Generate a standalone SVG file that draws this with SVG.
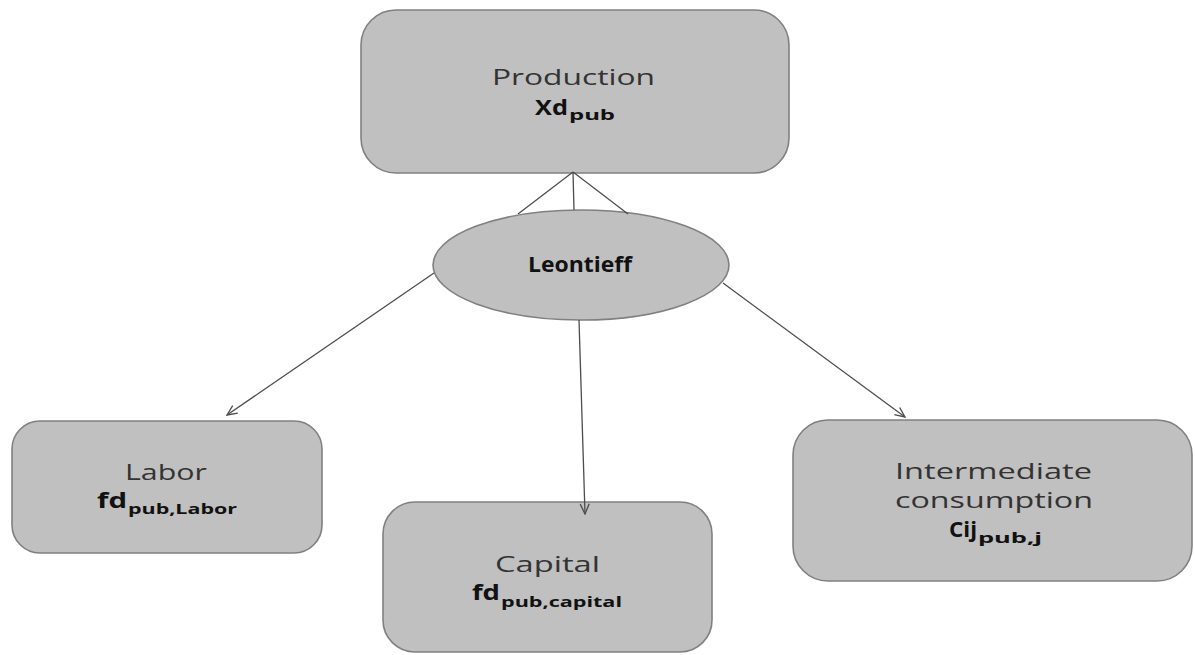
<svg xmlns="http://www.w3.org/2000/svg" width="1195" height="655" viewBox="0 0 1195 655">
  <defs>
    <style>
      .box { fill: #c0c0c0; stroke: #808080; stroke-width: 1.6; }
      .link { fill: none; stroke: #4d4d4d; stroke-width: 1.3; }
      .lbl { font-family: "Open Sans", "Liberation Sans", sans-serif; font-size: 22px; fill: #333333; }
      .var { font-family: "Open Sans", "Liberation Sans", sans-serif; font-size: 22px; font-weight: bold; fill: #111111; }
      .sub { font-family: "Open Sans", "Liberation Sans", sans-serif; font-size: 14px; font-weight: bold; fill: #111111; }
    </style>
    <marker id="arrow" viewBox="0 0 12 12" refX="11" refY="6" markerWidth="12" markerHeight="12" markerUnits="userSpaceOnUse" orient="auto">
      <path d="M1,1.5 L11,6 L1,10.5" fill="none" stroke="#4d4d4d" stroke-width="1.3"/>
    </marker>
  </defs>

  <rect width="1195" height="655" fill="#ffffff"/>

  <!-- production node -->
  <g id="production">
    <rect class="box" x="361" y="10" width="428" height="163" rx="35" ry="35"/>
    <text class="lbl" x="492" y="85" font-size="24" textLength="163" lengthAdjust="spacingAndGlyphs">Production</text>
    <text class="var" x="535" y="115" textLength="33" lengthAdjust="spacingAndGlyphs">Xd</text>
    <text class="sub" x="569" y="120" textLength="46" lengthAdjust="spacingAndGlyphs">pub</text>
  </g>

  <!-- Leontieff aggregation -->
  <g id="leontieff">
    <ellipse class="box" cx="581" cy="265" rx="148" ry="55"/>
    <text class="var" x="528" y="272" font-size="17" textLength="104" lengthAdjust="spacingAndGlyphs">Leontieff</text>
  </g>

  <!-- labor node -->
  <g id="labor">
    <rect class="box" x="12" y="421" width="310" height="132" rx="28" ry="28"/>
    <text class="lbl" x="125" y="480" textLength="82" lengthAdjust="spacingAndGlyphs">Labor</text>
    <text class="var" x="97" y="508" textLength="30" lengthAdjust="spacingAndGlyphs">fd</text>
    <text class="sub" x="128" y="514" textLength="109" lengthAdjust="spacingAndGlyphs">pub,Labor</text>
  </g>

  <!-- capital node -->
  <g id="capital">
    <rect class="box" x="383" y="502" width="329" height="150" rx="32" ry="32"/>
    <text class="lbl" x="495" y="572" textLength="105" lengthAdjust="spacingAndGlyphs">Capital</text>
    <text class="var" x="472" y="600" textLength="28" lengthAdjust="spacingAndGlyphs">fd</text>
    <text class="sub" x="501" y="607" textLength="121" lengthAdjust="spacingAndGlyphs">pub,capital</text>
  </g>

  <!-- intermediate consumption node -->
  <g id="intermediate">
    <rect class="box" x="793" y="420" width="399" height="161" rx="35" ry="35"/>
    <text class="lbl" x="895" y="479" textLength="197" lengthAdjust="spacingAndGlyphs">Intermediate</text>
    <text class="lbl" x="895" y="508" textLength="198" lengthAdjust="spacingAndGlyphs">consumption</text>
    <text class="var" x="949" y="537" textLength="28" lengthAdjust="spacingAndGlyphs">Cij</text>
    <text class="sub" x="978" y="543" textLength="64" lengthAdjust="spacingAndGlyphs">pub,j</text>
  </g>

  <!-- connectors, drawn over the nodes so the arrow tips stay visible -->
  <g id="connectors">
    <line class="link" x1="573" y1="172" x2="518" y2="214"/>
    <line class="link" x1="573" y1="172" x2="574" y2="210"/>
    <line class="link" x1="573" y1="172" x2="628" y2="214"/>
    <line class="link" x1="434" y1="273" x2="227" y2="415" marker-end="url(#arrow)"/>
    <line class="link" x1="579" y1="320" x2="585" y2="514" marker-end="url(#arrow)"/>
    <line class="link" x1="723" y1="283" x2="905" y2="417" marker-end="url(#arrow)"/>
  </g>
</svg>
